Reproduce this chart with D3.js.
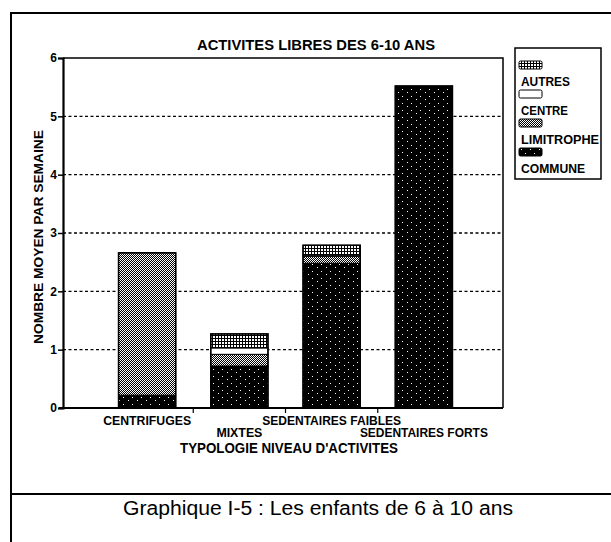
<!DOCTYPE html>
<html>
<head>
<meta charset="utf-8">
<script src="https://cdn.jsdelivr.net/npm/d3@7/dist/d3.min.js"></script>
<style>
  body { margin: 0; background: #fff; }
  svg text { font-family: "Liberation Sans", Arial, sans-serif; fill: #000; }
  .bold { font-weight: bold; }
</style>
</head>
<body>
<svg id="chart" width="611" height="542"></svg>
<script>
// Values
var categories = ["CENTRIFUGES", "MIXTES", "SEDENTAIRES FAIBLES", "SEDENTAIRES FORTS"];
var commune    = [0.22, 0.72, 2.48, 5.52];
var limitrophe = [2.44, 0.20, 0.12, 0];
var centre     = [0, 0.11, 0.02, 0];
var autres     = [0, 0.24, 0.17, 0];
var seriesNames = ["COMMUNE", "LIMITROPHE", "CENTRE", "AUTRES"];
var yTicks = [0, 1, 2, 3, 4, 5, 6];

function drawChart() {
  var svg = d3.select("#chart");

  // patterns imitating the old printer fills
  var defs = svg.append("defs");
  var pLim = defs.append("pattern").attr("id", "p-lim")
    .attr("width", 2).attr("height", 2).attr("patternUnits", "userSpaceOnUse");
  pLim.append("rect").attr("width", 2).attr("height", 2).attr("fill", "#000");
  pLim.append("rect").attr("width", 1).attr("height", 1).attr("fill", "#fff");
  pLim.append("rect").attr("x", 1).attr("y", 1).attr("width", 1).attr("height", 1).attr("fill", "#fff");

  var pAut = defs.append("pattern").attr("id", "p-aut")
    .attr("width", 3).attr("height", 3).attr("patternUnits", "userSpaceOnUse");
  pAut.append("rect").attr("width", 3).attr("height", 3).attr("fill", "#000");
  pAut.append("rect").attr("width", 2).attr("height", 2).attr("fill", "#fff");

  var pCom = defs.append("pattern").attr("id", "p-com")
    .attr("width", 9).attr("height", 7).attr("patternUnits", "userSpaceOnUse");
  pCom.append("rect").attr("width", 9).attr("height", 7).attr("fill", "#000");
  pCom.append("rect").attr("x", 2).attr("y", 1).attr("width", 1).attr("height", 1).attr("fill", "#fff");
  pCom.append("rect").attr("x", 6).attr("y", 5).attr("width", 1).attr("height", 1).attr("fill", "#fff");

  var fills = {
    "COMMUNE": "url(#p-com)",
    "LIMITROPHE": "url(#p-lim)",
    "CENTRE": "#fff",
    "AUTRES": "url(#p-aut)"
  };

  // outer frame of the page figure
  svg.append("path").attr("d", "M11,542V13H611").attr("fill", "none")
    .attr("stroke", "#000").attr("stroke-width", 2);
  svg.append("line").attr("x1", 11).attr("x2", 611).attr("y1", 494).attr("y2", 494)
    .attr("stroke", "#000").attr("stroke-width", 2);

  var plotLeft = 63, plotRight = 503, plotTop = 58, plotBottom = 408;

  var y = d3.scaleLinear().domain([0, 6]).range([plotBottom, plotTop]);
  var x = d3.scaleBand().domain(categories).range([101, 470])
    .paddingInner(0.38).paddingOuter(0.19);

  // dotted gridlines
  svg.append("g").selectAll("line")
    .data(yTicks.filter(function(d) { return d > 0 && d < 6; }))
    .enter().append("line")
    .attr("x1", plotLeft).attr("x2", plotRight)
    .attr("y1", function(d) { return y(d); }).attr("y2", function(d) { return y(d); })
    .attr("stroke", "#000").attr("stroke-width", 1.4).attr("stroke-dasharray", "3,2.5");

  // stacked bars
  var rows = categories.map(function(c, i) {
    return { cat: c, COMMUNE: commune[i], LIMITROPHE: limitrophe[i], CENTRE: centre[i], AUTRES: autres[i] };
  });
  var stack = d3.stack().keys(seriesNames)(rows);

  svg.append("g").selectAll("g")
    .data(stack)
    .enter().append("g")
    .attr("fill", function(d) { return fills[d.key]; })
    .selectAll("rect")
    .data(function(d) { return d.filter(function(p) { return p[1] - p[0] > 0; }); })
    .enter().append("rect")
    .attr("x", function(d) { return x(d.data.cat); })
    .attr("width", x.bandwidth())
    .attr("y", function(d) { return y(d[1]); })
    .attr("height", function(d) { return y(d[0]) - y(d[1]); })
    .attr("stroke", "#000").attr("stroke-width", 1);

  // bar outlines
  function total(d) { return d.COMMUNE + d.LIMITROPHE + d.CENTRE + d.AUTRES; }
  svg.append("g").selectAll("rect")
    .data(rows)
    .enter().append("rect")
    .attr("x", function(d) { return x(d.cat); })
    .attr("width", x.bandwidth())
    .attr("y", function(d) { return y(total(d)); })
    .attr("height", function(d) { return plotBottom - y(total(d)); })
    .attr("fill", "none").attr("stroke", "#000").attr("stroke-width", 1.5);

  // plot frame (top and right)
  svg.append("path").attr("d", "M" + plotLeft + "," + plotTop + "H" + plotRight + "V" + plotBottom)
    .attr("fill", "none").attr("stroke", "#000").attr("stroke-width", 1.5);

  // y axis
  var yAxis = svg.append("g").attr("transform", "translate(" + plotLeft + ",0)")
    .call(d3.axisLeft(y).tickValues(yTicks).tickSize(5).tickPadding(1).tickFormat(d3.format("d")));
  yAxis.attr("font-family", null).attr("font-size", null);
  yAxis.select(".domain").attr("stroke-width", 2.2);
  yAxis.selectAll(".tick line").attr("stroke-width", 1.5);
  yAxis.selectAll("text").attr("class", "bold").style("font-size", "12px");

  // x axis: baseline and ticks between categories
  svg.append("line").attr("x1", plotLeft - 4).attr("x2", plotRight)
    .attr("y1", plotBottom).attr("y2", plotBottom)
    .attr("stroke", "#000").attr("stroke-width", 2);
  svg.append("g").selectAll("line")
    .data(categories.slice(1))
    .enter().append("line")
    .attr("x1", function(d) { return x(d) - x.step() * x.paddingInner() / 2; })
    .attr("x2", function(d) { return x(d) - x.step() * x.paddingInner() / 2; })
    .attr("y1", plotBottom).attr("y2", plotBottom + 5)
    .attr("stroke", "#000").attr("stroke-width", 1.2);

  // category labels on two staggered rows (widths as printed)
  var labelWidths = [88, 46, 139, 128];
  svg.append("g").selectAll("text")
    .data(categories)
    .enter().append("text")
    .attr("class", "bold")
    .style("font-size", "12.5px")
    .attr("text-anchor", "middle")
    .attr("x", function(d) { return x(d) + x.bandwidth() / 2; })
    .attr("y", function(d, i) { return i % 2 === 0 ? 424.5 : 437; })
    .attr("textLength", function(d, i) { return labelWidths[i]; })
    .attr("lengthAdjust", "spacingAndGlyphs")
    .text(function(d) { return d; });

  // axis titles
  svg.append("text").attr("class", "bold").attr("text-anchor", "middle")
    .style("font-size", "14px")
    .attr("x", 289).attr("y", 453)
    .attr("textLength", 218).attr("lengthAdjust", "spacingAndGlyphs")
    .text("TYPOLOGIE NIVEAU D'ACTIVITES");
  svg.append("text").attr("class", "bold").attr("text-anchor", "middle")
    .style("font-size", "13.5px")
    .attr("transform", "translate(43,237) rotate(-90)")
    .attr("textLength", 214).attr("lengthAdjust", "spacingAndGlyphs")
    .text("NOMBRE MOYEN PAR SEMAINE");
  svg.append("text").attr("class", "bold").attr("text-anchor", "middle")
    .style("font-size", "14.5px")
    .attr("x", 316).attr("y", 50)
    .attr("textLength", 238).attr("lengthAdjust", "spacingAndGlyphs")
    .text("ACTIVITES LIBRES DES 6-10 ANS");

  // legend, top entry first
  var legendWidths = { "AUTRES": 49, "CENTRE": 47, "LIMITROPHE": 78, "COMMUNE": 64 };
  var legend = svg.append("g").attr("transform", "translate(515,48)");
  legend.append("rect").attr("width", 86).attr("height", 131)
    .attr("fill", "#fff").attr("stroke", "#000").attr("stroke-width", 1.5);
  var items = legend.selectAll("g.item")
    .data(seriesNames.slice().reverse())
    .enter().append("g").attr("class", "item")
    .attr("transform", function(d, i) { return "translate(4," + (13 + i * 29) + ")"; });
  items.append("rect").attr("width", 23).attr("height", 8).attr("rx", 1.5)
    .attr("fill", function(d) { return fills[d]; })
    .attr("stroke", "#000").attr("stroke-width", 1);
  items.append("text").attr("class", "bold").attr("x", 2).attr("y", 25)
    .style("font-size", "12px")
    .attr("textLength", function(d) { return legendWidths[d]; })
    .attr("lengthAdjust", "spacingAndGlyphs")
    .text(function(d) { return d; });

  // caption
  svg.append("text").attr("text-anchor", "middle").attr("x", 318).attr("y", 515)
    .style("font-size", "19.5px")
    .attr("textLength", 390).attr("lengthAdjust", "spacingAndGlyphs")
    .text("Graphique I-5 : Les enfants de 6 à 10 ans");
}
drawChart();
</script>
</body>
</html>
